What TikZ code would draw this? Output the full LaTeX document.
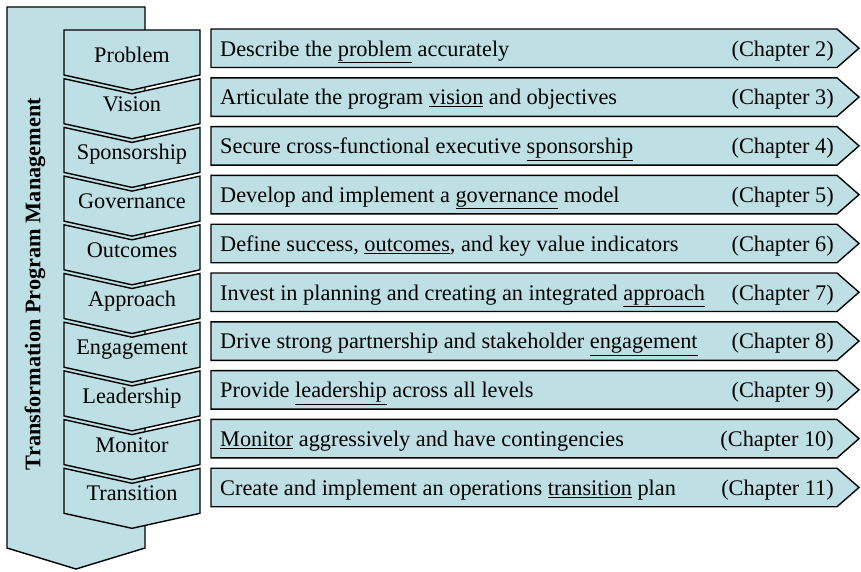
\documentclass[tikz,border=0pt]{standalone}
\usepackage{fontspec}
\setmainfont{Liberation Serif}
\definecolor{paleblue}{RGB}{190,224,229}
\tikzset{
  outline/.style={draw=black, line width=1.4pt, fill=paleblue, line join=miter},
  label font/.style={font=\fontsize{22.3}{26}\selectfont, inner sep=0pt},
}
\begin{document}
\begin{tikzpicture}[x=1pt,y=-1pt]
  \useasboundingbox (0,0) rectangle (861,571);

  % Big arrow
  \draw[outline] (7,7) -- (145,7) -- (145,548) -- (76,569) -- (7,548) -- cycle;
  \node[label font, font=\fontsize{22.3}{26}\selectfont\bfseries, rotate=90] (tpm) at (35,284) {Transformation Program Management};

  % Steps
  \foreach \name [count=\i from 0] in {Problem,Vision,Sponsorship,Governance,Outcomes,Approach,Engagement,Leadership,Monitor,Transition} {
    \pgfmathsetmacro\top{30+48.7*\i}
    \pgfmathsetmacro\dip{\i==0 ? 0 : 15}
    \draw[outline] (64,\top) -- (132,\top+\dip) -- (200,\top) -- (200,\top+45)
      -- (132,\top+60) -- (64,\top+45) -- cycle;
    \node[label font, anchor=base] (step\i) at (132,\top+32.5) {\name};
  }

  % Task boxes
  \foreach \task/\chap [count=\i from 0] in {
      {Describe the \underline{problem} accurately}/2,
      {Articulate the program \underline{vision} and objectives}/3,
      {Secure cross-functional executive \underline{sponsorship}}/4,
      {Develop and implement a \underline{governance} model}/5,
      {Define success, \underline{outcomes}, and key value indicators}/6,
      {Invest in planning and creating an integrated \underline{approach}}/7,
      {Drive strong partnership and stakeholder \underline{engagement}}/8,
      {Provide \underline{leadership} across all levels}/9,
      {\underline{Monitor} aggressively and have contingencies}/10,
      {Create and implement an operations \underline{transition} plan}/11} {
    \pgfmathsetmacro\top{29+48.8*\i}
    \draw[outline] (211,\top) -- (837,\top) -- (859,\top+19.25) -- (837,\top+38.5)
      -- (211,\top+38.5) -- cycle;
    \node[label font, anchor=base west] (task\i) at (220,\top+27) {\task};
    \node[label font, anchor=base east] (chap\i) at (834,\top+27) {(Chapter \chap)};
  }
\end{tikzpicture}
\end{document}
